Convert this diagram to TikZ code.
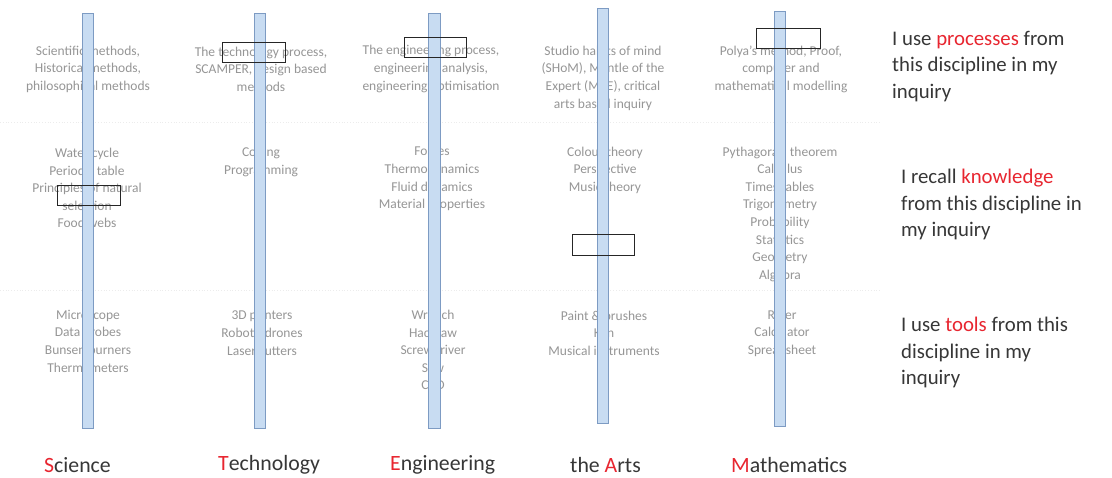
\documentclass[tikz,border=0pt]{standalone}
\usepackage{fontspec}
\setmainfont{Carlito}
\begin{document}
\definecolor{barfill}{RGB}{200,220,242}
\definecolor{barline}{RGB}{125,155,195}
\definecolor{softgray}{RGB}{150,150,150}
\definecolor{inkgray}{RGB}{55,55,55}
\definecolor{accent}{RGB}{232,38,48}
\definecolor{rule}{RGB}{236,236,236}
\tikzset{
  bar/.style={draw=barline, fill=barfill, line width=0.9pt},
  hilite/.style={draw=black!85, line width=1pt},
  smalltext/.style={text=softgray, align=center, inner sep=0pt,
    font=\fontsize{13.5}{17.6}\selectfont},
  sidelabel/.style={text=inkgray, align=left, anchor=north west, inner sep=0pt,
    font=\fontsize{20.8}{26.5}\selectfont},
  disc/.style={text=inkgray, anchor=west, inner sep=0pt,
    font=\fontsize{21.8}{25}\selectfont},
  divider/.style={draw=rule, line width=0.8pt, dotted}
}
\newcommand{\lead}[1]{\textcolor{accent}{#1}}
\begin{tikzpicture}[x=1pt,y=-1pt]
\useasboundingbox (0,0) rectangle (1112,477);
\fill[white] (0,0) rectangle (1112,477);

% faint dividers between the three rows
\draw[divider] (0,122) -- (880,122);
\draw[divider] (0,290) -- (880,290);

% processes row
\node[smalltext] (procS) at (88,69) {Scientific methods,\\Historical methods,\\philosophical methods};
\node[smalltext] (procT) at (261,69) {The technology process,\\SCAMPER, design based\\methods};
\node[smalltext] (procE) at (431,69) {The engineering process,\\engineering analysis,\\engineering optimisation};
\node[smalltext] (procA) at (603,78) {Studio habits of mind\\(SHoM), Mantle of the\\Expert (MoE), critical\\arts based inquiry};
\node[smalltext] (procM) at (781,69) {Polya's method, Proof,\\computer and\\mathematical modelling};

% knowledge row
\node[smalltext] (knowS) at (87,188) {Water cycle\\Periodic table\\Principles of natural\\selection\\Food webs};
\node[smalltext] (knowT) at (261,162) {Coding\\Programming};
\node[smalltext] (knowE) at (432,179) {Forces\\Thermodynamics\\Fluid dynamics\\Material properties};
\node[smalltext] (knowA) at (605,170) {Colour theory\\Perspective\\Music theory};
\node[smalltext] (knowM) at (780,214) {Pythagoras' theorem\\Calculus\\Times tables\\Trigonometry\\Probability\\Statistics\\Geometry\\Algebra};

% tools row
\node[smalltext] (toolS) at (88,341) {Microscope\\Data probes\\Bunsen burners\\Thermometers};
\node[smalltext] (toolT) at (262,333) {3D printers\\Robots/drones\\Laser cutters};
\node[smalltext] (toolE) at (433,350) {Wrench\\Hacksaw\\Screwdriver\\Saw\\CAD};
\node[smalltext] (toolA) at (604,333) {Paint \& brushes\\Kiln\\Musical instruments};
\node[smalltext] (toolM) at (782,333) {Ruler\\Calculator\\Spreadsheet};

% sliders, one per discipline
\draw[bar] (82,13) rectangle (93,428);
\draw[bar] (254,13) rectangle (265,428);
\draw[bar] (428,13) rectangle (440,428);
\draw[bar] (597,8) rectangle (608,423);
\draw[bar] (774,11) rectangle (785,426);

% slider handles
\draw[hilite] (222,42) rectangle (285,62);
\draw[hilite] (404,37) rectangle (466,57);
\draw[hilite] (756,28) rectangle (820,48);
\draw[hilite] (57,185) rectangle (120,205);
\draw[hilite] (572,234) rectangle (634,255);

% row statements
\node[sidelabel] (rowP) at (892,31) {I use \lead{processes} from\\this discipline in my\\inquiry};
\node[sidelabel] (rowK) at (901,169) {I recall \lead{knowledge}\\from this discipline in\\my inquiry};
\node[sidelabel] (rowT) at (901,317) {I use \lead{tools} from this\\discipline in my\\inquiry};

% discipline names
\node[disc] (nameS) at (44,465) {\lead{S}cience};
\node[disc] (nameT) at (218,465) {\lead{T}echnology};
\node[disc] (nameE) at (390,465) {\lead{E}ngineering};
\node[disc] (nameA) at (570,465) {the \lead{A}rts};
\node[disc] (nameM) at (731,465) {\lead{M}athematics};
\end{tikzpicture}
\end{document}
